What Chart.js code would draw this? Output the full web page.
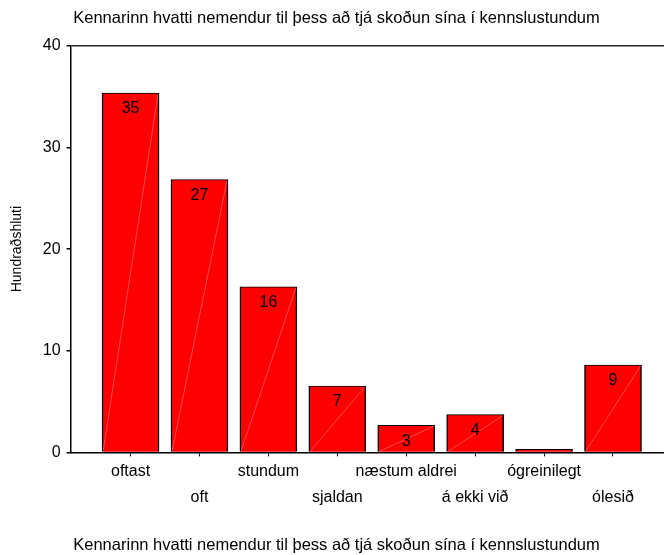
<!DOCTYPE html>
<html>
<head>
<meta charset="utf-8">
<script src="https://cdn.jsdelivr.net/npm/chart.js@4/dist/chart.umd.min.js"></script>
<style>
  body { margin: 0; background: #fff; }
  #wrap { width: 664px; height: 555px; }
</style>
</head>
<body>
<div id="wrap"><canvas id="chart"></canvas></div>
<script>
const TITLE = "Kennarinn hvatti nemendur til þess að tjá skoðun sína í kennslustundum";
const Y_TITLE = "Hundraðshluti";
const flokkar = ["oftast", "oft", "stundum", "sjaldan", "næstum aldrei", "á ekki við", "ógreinilegt", "ólesið"];
const hlutfall = [35.35, 26.84, 16.3, 6.53, 2.67, 3.71, 0, 8.59];
const yTicks = [0, 10, 20, 30, 40];

const FONT = "'Liberation Sans', Arial, sans-serif";

// skrifar gildið inn í súluna og dregur daufu skálínuna
const barExtras = {
  id: "barExtras",
  afterDatasetsDraw(chart) {
    const ctx = chart.ctx;
    const meta = chart.getDatasetMeta(0);
    ctx.save();
    meta.data.forEach((bar, i) => {
      const v = hlutfall[i];
      if (!v) return;
      const half = bar.width / 2;
      ctx.strokeStyle = "rgba(255,255,255,0.3)";
      ctx.lineWidth = 1;
      ctx.beginPath();
      ctx.moveTo(bar.x - half + 1, bar.base);
      ctx.lineTo(bar.x + half - 1, bar.y + 1);
      ctx.stroke();
      ctx.fillStyle = "#000";
      ctx.font = "16px " + FONT;
      ctx.textAlign = "center";
      ctx.textBaseline = "middle";
      ctx.fillText(Math.round(v), bar.x, bar.y + 16);
    });
    ctx.restore();
  }
};

new Chart(document.getElementById("chart"), {
  type: "bar",
  data: {
    datasets: [{
      data: hlutfall.map((v, i) => ({ x: i, y: v })),
      backgroundColor: "#ff0000",
      borderColor: "#000",
      borderWidth: { top: 1, left: 1.5, right: 1.5, bottom: 0 },
      borderSkipped: false,
      barThickness: 57,
      minBarLength: 3
    }]
  },
  options: {
    responsive: true,
    maintainAspectRatio: false,
    animation: false,
    layout: { padding: { left: 9, right: 0, top: 0, bottom: 0 } },
    plugins: {
      legend: { display: false },
      tooltip: { enabled: false },
      title: {
        display: true,
        text: TITLE,
        color: "#000",
        font: { family: FONT, size: 16.5, weight: "normal" },
        padding: { top: 9, bottom: 17 }
      },
      subtitle: {
        display: true,
        text: TITLE,
        position: "bottom",
        color: "#000",
        font: { family: FONT, size: 16.5, weight: "normal" },
        padding: { top: 22, bottom: 0 }
      }
    },
    scales: {
      x: {
        type: "linear",
        offset: false,
        min: -0.87,
        max: 7.74,
        afterBuildTicks: scale => {
          scale.ticks = flokkar.map((_, i) => ({ value: i }));
        },
        ticks: {
          color: "#000",
          font: { family: FONT, size: 16, lineHeight: 1.65 },
          padding: 2,
          maxRotation: 0,
          autoSkip: false,
          callback: v => (v % 2 ? ["", flokkar[v]] : [flokkar[v], ""])
        },
        grid: {
          offset: false,
          drawOnChartArea: false,
          drawTicks: true,
          tickLength: 4,
          tickColor: "#000"
        },
        border: { color: "#000", width: 1.5 }
      },
      y: {
        min: 0,
        max: 40,
        afterBuildTicks: scale => {
          scale.ticks = yTicks.map(v => ({ value: v }));
        },
        ticks: {
          color: "#000",
          font: { family: FONT, size: 16 },
          padding: 6
        },
        grid: {
          color: c => (c.tick && c.tick.value === 40 ? "#222" : "rgba(0,0,0,0)"),
          lineWidth: 1.5,
          drawTicks: true,
          tickLength: 4,
          tickColor: "#000"
        },
        border: { color: "#000", width: 1.5 },
        title: {
          display: true,
          text: Y_TITLE,
          color: "#000",
          font: { family: FONT, size: 14 },
          padding: { top: 0, bottom: 11 }
        }
      }
    }
  },
  plugins: [barExtras]
});
</script>
</body>
</html>
